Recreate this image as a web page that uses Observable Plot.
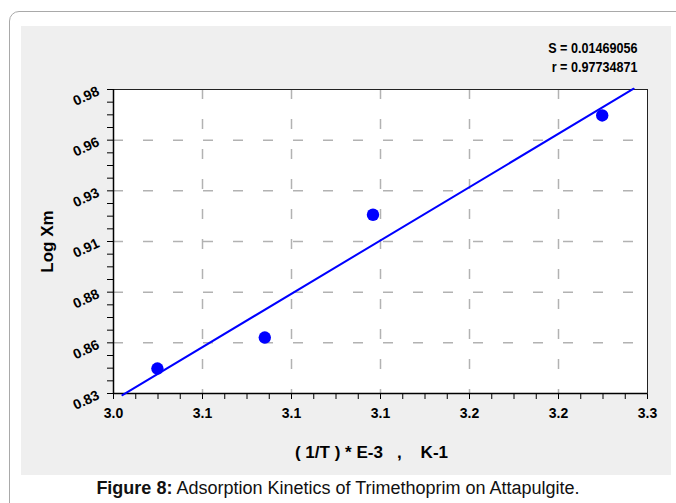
<!DOCTYPE html>
<html>
<head>
<meta charset="utf-8">
<script src="https://cdn.jsdelivr.net/npm/d3@7"></script>
<script src="https://cdn.jsdelivr.net/npm/@observablehq/plot@0.6"></script>
<style>
  html, body { margin: 0; padding: 0; background: #ffffff; width: 676px; height: 503px; overflow: hidden; }
  #frame { position: absolute; left: 9px; top: 11px; width: 690px; height: 540px; border: 1.5px solid #a9a9a9; border-radius: 10px; box-sizing: border-box; }
  #chart { position: absolute; left: 21px; top: 26px; }
  #caption { position: absolute; left: 0; top: 479px; width: 676px; text-align: center; font-family: "Liberation Sans", Arial, sans-serif; font-size: 18px; line-height: 18px; color: #111; }
  #caption b { font-weight: bold; }
</style>
</head>
<body>
<div id="frame"></div>
<div id="chart"></div>
<div id="caption"><b>Figure 8:</b> Adsorption Kinetics of Trimethoprim on Attapulgite.</div>
<script>
// ---- data ----
const invT = [3.0322, 3.0865, 3.1412, 3.2571];      // (1/T)*E-3, K-1
const logXm = [0.8423, 0.8576, 0.9182, 0.9672];     // Log Xm
const xDomain = [3.01, 3.28];
const yDomain = [0.83, 0.98];
const xTicks = [3.01, 3.055, 3.10, 3.145, 3.19, 3.235, 3.28];
const xTickLabels = ["3.0", "3.1", "3.1", "3.1", "3.2", "3.2", "3.3"];
const yTicks = [0.83, 0.855, 0.88, 0.905, 0.93, 0.955, 0.98];
const yTickLabels = ["0.83", "0.86", "0.88", "0.91", "0.93", "0.96", "0.98"];
const fitExtent = [3.0145, 3.273];
const statLines = ["S = 0.01469056", "r = 0.97734871"];
const xTitle = "( 1/T ) * E-3\u00A0\u00A0\u00A0,\u00A0\u00A0\u00A0\u00A0K-1";
const yTitle = "Log Xm";

// ---- derived ----
const points = invT.map((x, i) => ({x, y: logXm[i]}));
const mx = d3.mean(invT), my = d3.mean(logXm);
const slope = d3.sum(invT, (x, i) => (x - mx) * (logXm[i] - my)) / d3.sum(invT, x => (x - mx) ** 2);
const icpt = my - slope * mx;
const fit = fitExtent.map(x => ({x, y: icpt + slope * x}));

function subdivide(ticks, n) {
  const out = [];
  for (let i = 0; i < ticks.length - 1; i++)
    for (let k = 0; k < n; k++) out.push(ticks[i] + k * (ticks[i + 1] - ticks[i]) / n);
  out.push(ticks[ticks.length - 1]);
  return out;
}
const xAll = subdivide(xTicks, 4);
const yAll = subdivide(yTicks, 4);

const blue = "#0000ff";
const gridStyle = {stroke: "#b2b2b2", strokeWidth: 1.5, strokeDasharray: "10,20"};
const statStyle = {frameAnchor: "top-right", dx: -10, textAnchor: "end", lineAnchor: "middle",
  fontWeight: "bold", fontSize: 15, letterSpacing: "-0.4px"};

const chart = Plot.plot({
  width: 650,
  height: 449,
  marginLeft: 92,
  marginRight: 24,
  marginTop: 63,
  marginBottom: 82,
  style: {background: "#efefef", fontFamily: "'Liberation Sans', Arial, sans-serif", color: "#000", overflow: "visible"},
  x: {domain: xDomain, ticks: xAll, tickSize: 6, tickFormat: () => "", label: null},
  y: {domain: yDomain, ticks: yAll, tickSize: 6, tickFormat: () => "", label: null},
  marks: [
    Plot.frame({fill: "white", stroke: null}),
    Plot.ruleX(xTicks.slice(1, -1), gridStyle),
    Plot.ruleY(yTicks.slice(1, -1), gridStyle),
    Plot.frame({stroke: "#222", strokeWidth: 1}),
    Plot.ruleX([xDomain[0]], {stroke: "#000", strokeWidth: 1.5}),
    Plot.ruleY([yDomain[0]], {stroke: "#000", strokeWidth: 1.5}),
    Plot.line(fit, {x: "x", y: "y", stroke: blue, strokeWidth: 2}),
    Plot.dot(points, {x: "x", y: "y", fill: blue, r: 6.2}),
    // x tick labels
    Plot.text(xTicks, {x: d => d, frameAnchor: "bottom", dy: 20, lineAnchor: "middle", textAnchor: "middle",
      text: (d, i) => xTickLabels[i], fontWeight: "bold", fontSize: 14, letterSpacing: "-0.8px"}),
    // y tick labels (rotated)
    Plot.text(yTicks, {y: d => d, frameAnchor: "left", dx: -15, dy: 1, textAnchor: "end", lineAnchor: "middle",
      rotate: -25, text: (d, i) => yTickLabels[i], fontWeight: "bold", fontSize: 14, letterSpacing: "-0.8px"}),
    // axis titles
    Plot.text([xTitle], {frameAnchor: "bottom", dx: -9, dy: 59, lineAnchor: "middle", textAnchor: "middle",
      fontWeight: "bold", fontSize: 17, letterSpacing: "-0.6px"}),
    Plot.text([yTitle], {frameAnchor: "left", dx: -66, rotate: -90, lineAnchor: "middle", textAnchor: "middle",
      fontWeight: "bold", fontSize: 17, letterSpacing: "1.2px"}),
    // statistics
    Plot.text([statLines[0]], {...statStyle, dy: -41}),
    Plot.text([statLines[1]], {...statStyle, dy: -22})
  ]
});
document.getElementById("chart").appendChild(chart);
// condense the statistics block horizontally (narrow typeface look), keeping its right edge fixed
chart.querySelectorAll("text").forEach(t => {
  if (!statLines.includes(t.textContent)) return;
  const b = t.getBBox();
  const xr = b.x + b.width;
  const tr = t.getAttribute("transform") || "";
  t.setAttribute("transform", `${tr} translate(${xr},0) scale(0.84,1) translate(${-xr},0)`);
});
</script>
</body>
</html>
